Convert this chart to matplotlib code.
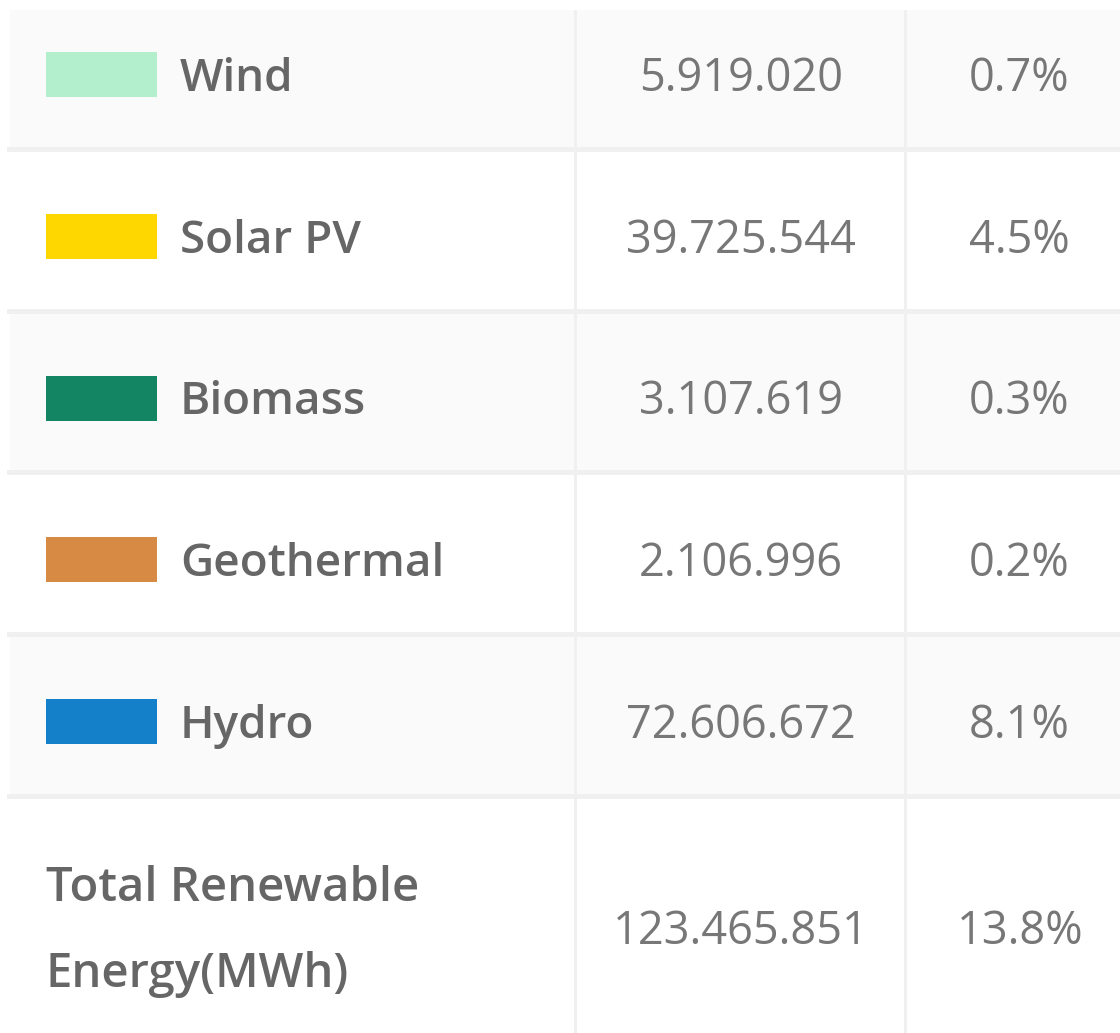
import matplotlib
matplotlib.use("Agg")
import matplotlib.pyplot as plt
from matplotlib.patches import Rectangle

categories = ["Wind", "Solar PV", "Biomass", "Geothermal", "Hydro"]
energy_mwh = ["5.919.020", "39.725.544", "3.107.619", "2.106.996", "72.606.672"]
shares = ["0.7%", "4.5%", "0.3%", "0.2%", "8.1%"]
swatch_colors = ["#b3efcd", "#ffd700", "#138562", "#d78a44", "#1380c9"]
total_label = ["Total Renewable", "Energy(MWh)"]
total_energy = "123.465.851"
total_share = "13.8%"

W, H = 1120, 1033
fig = plt.figure(figsize=(W / 100, H / 100), dpi=100)
ax = fig.add_axes([0, 0, 1, 1])
ax.set_xlim(0, W)
ax.set_ylim(H, 0)
ax.axis("off")

left = 10
top0 = -12
row_h = 161.6
col1, col2 = 575, 905
c2_center, c3_center = 741, 1019
label_color = "#666666"
num_color = "#777777"
line_color = "#f0f0f0"
font = "Open Sans"
fs_label = 33
fs_num = 32.5

n = len(categories)
for i in range(n + 1):
    y0 = top0 + i * row_h
    h = row_h if i < n else H - y0 + 10
    bg = "#fafafa" if i % 2 == 0 else "#ffffff"
    ax.add_patch(Rectangle((left, max(y0, 10)), W - left, h - (max(y0, 10) - y0),
                           facecolor=bg, edgecolor="none", zorder=0))
    if i > 0:
        ax.add_patch(Rectangle((left - 3, y0 - 2.5), W, 5, facecolor=line_color,
                               edgecolor="none", zorder=1))

for xc in (col1, col2):
    ax.add_patch(Rectangle((xc - 1.5, 10), 3, H, facecolor=line_color,
                           edgecolor="none", zorder=1))

for i, (cat, val, sh, col) in enumerate(zip(categories, energy_mwh, shares, swatch_colors)):
    yc = top0 + (i + 0.5) * row_h + 6
    base = yc + 16.5
    ax.add_patch(Rectangle((46, yc - 22.5), 111, 45, facecolor=col,
                           edgecolor="none", zorder=2))
    ax.text(180, base, cat, fontsize=fs_label, fontfamily=font, fontweight="semibold",
            color=label_color, ha="left", va="baseline", zorder=3)
    ax.text(c2_center, base, val, fontsize=fs_num, fontfamily=font, color=num_color,
            ha="center", va="baseline", zorder=3)
    ax.text(c3_center, base, sh, fontsize=fs_num, fontfamily=font, color=num_color,
            ha="center", va="baseline", zorder=3)

ax.text(46, 901, total_label[0], fontsize=34, fontfamily=font, fontweight="semibold",
        color=label_color, ha="left", va="baseline", zorder=3)
ax.text(46, 987, total_label[1], fontsize=34, fontfamily=font, fontweight="semibold",
        color=label_color, ha="left", va="baseline", zorder=3)
ax.text(c2_center, 944, total_energy, fontsize=fs_num, fontfamily=font, color=num_color,
        ha="center", va="baseline", zorder=3)
ax.text(1020, 944, total_share, fontsize=fs_num, fontfamily=font, color=num_color,
        ha="center", va="baseline", zorder=3)

fig.savefig("out.png", dpi=100, facecolor="white")
